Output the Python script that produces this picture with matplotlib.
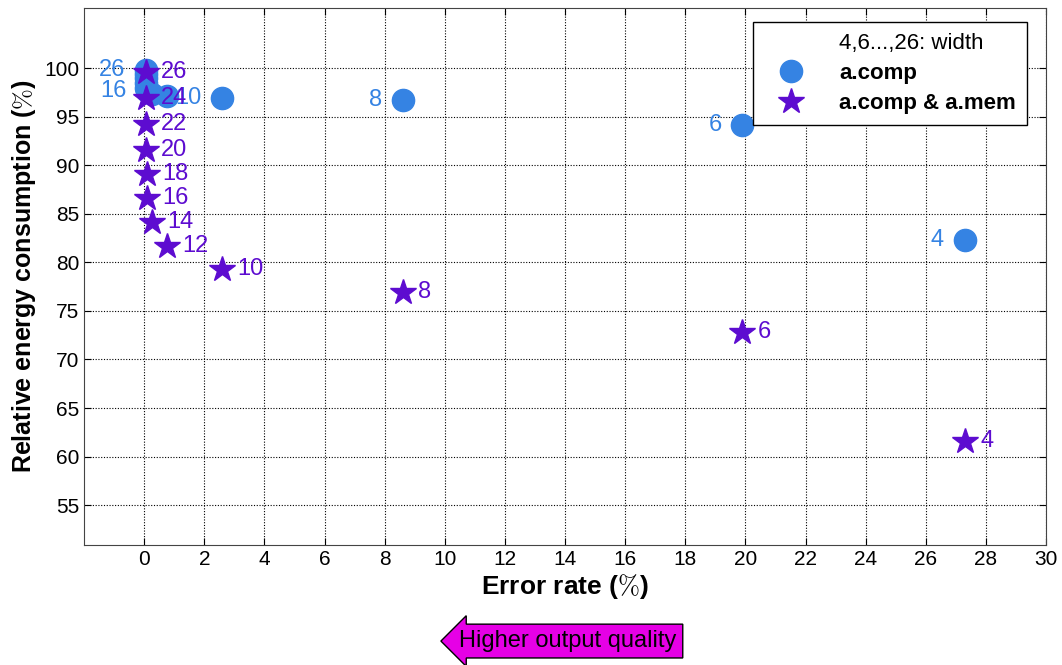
import matplotlib.pyplot as plt

plt.rcParams['font.family'] = ['Liberation Sans', 'DejaVu Sans']
plt.rcParams['mathtext.fontset'] = 'cm'

# widths, error rate (%) and relative energy (%)
widths = [4, 6, 8, 10, 12, 14, 16, 18, 20, 22, 24, 26]

comp_err = [27.3, 19.9, 8.6, 2.6, 0.75, 0.25, 0.1, 0.05, 0.05, 0.05, 0.05, 0.05]
comp_energy = [82.3, 94.2, 96.7, 96.9, 97.1, 97.3, 97.6, 98.0, 98.5, 99.0, 99.4, 99.8]
comp_labeled = [4, 6, 8, 10, 16, 26]

mem_err = [27.3, 19.9, 8.6, 2.6, 0.75, 0.25, 0.1, 0.1, 0.05, 0.05, 0.05, 0.05]
mem_energy = [61.6, 72.8, 76.9, 79.3, 81.7, 84.2, 86.6, 89.1, 91.6, 94.3, 96.9, 99.6]

blue = '#3583e3'
purple = '#5d0cd0'

fig = plt.figure(figsize=(10.62, 6.65), dpi=100)
ax = fig.add_axes([0.0791, 0.1805, 0.9059, 0.8075])

ax.plot(comp_err, comp_energy, 'o', color=blue, markersize=16, linestyle='none',
        label='a.comp', zorder=3)
for w, x, y in zip(widths, comp_err, comp_energy):
    if w in comp_labeled:
        ax.annotate(str(w), (x, y), xytext=(-15, 0), textcoords='offset points',
                    ha='right', va='center', color=blue, fontsize=17, zorder=4)

ax.plot(mem_err, mem_energy, '*', color=purple, markersize=19, linestyle='none',
        label='a.comp & a.mem', zorder=5)
for w, x, y in zip(widths, mem_err, mem_energy):
    ax.annotate(str(w), (x, y), xytext=(11, 0), textcoords='offset points',
                ha='left', va='center', color=purple, fontsize=17, zorder=6)

ax.set_xlim(-2, 30)
ax.set_ylim(50.9, 106.2)
ax.set_xticks(range(0, 31, 2))
ax.set_yticks(range(55, 101, 5))
ax.tick_params(labelsize=15, direction='in', top=True, right=True, length=5)
ax.grid(True, linestyle=(0, (1, 1.5)), color='black', linewidth=0.8)
for s in ax.spines.values():
    s.set_color('#444444')

ax.set_xlabel(r'Error rate ($\%$)', fontsize=19, fontweight='bold', labelpad=2)
ax.set_ylabel(r'Relative energy consumption ($\%$)', fontsize=18, fontweight='bold')

h1, = ax.plot([], [], linestyle='none', marker='none')
handles, labels = ax.get_legend_handles_labels()
leg = ax.legend([h1] + handles[:2], ['4,6...,26: width'] + labels[:2],
                loc='upper right', fontsize=16, fancybox=False, framealpha=1,
                edgecolor='black', borderpad=0.5, handletextpad=1.0,
                handlelength=2.4, labelspacing=0.4, bbox_to_anchor=(0.992, 0.995))
leg.get_frame().set_linewidth(1.0)
for t in leg.get_texts()[1:]:
    t.set_fontweight('bold')

fig.text(0.535, 0.036, 'Higher output quality', fontsize=17, ha='center', va='center',
         bbox=dict(boxstyle='larrow,pad=0.25', facecolor='#e600e6', edgecolor='black'))

fig.savefig('out.png', dpi=100)
